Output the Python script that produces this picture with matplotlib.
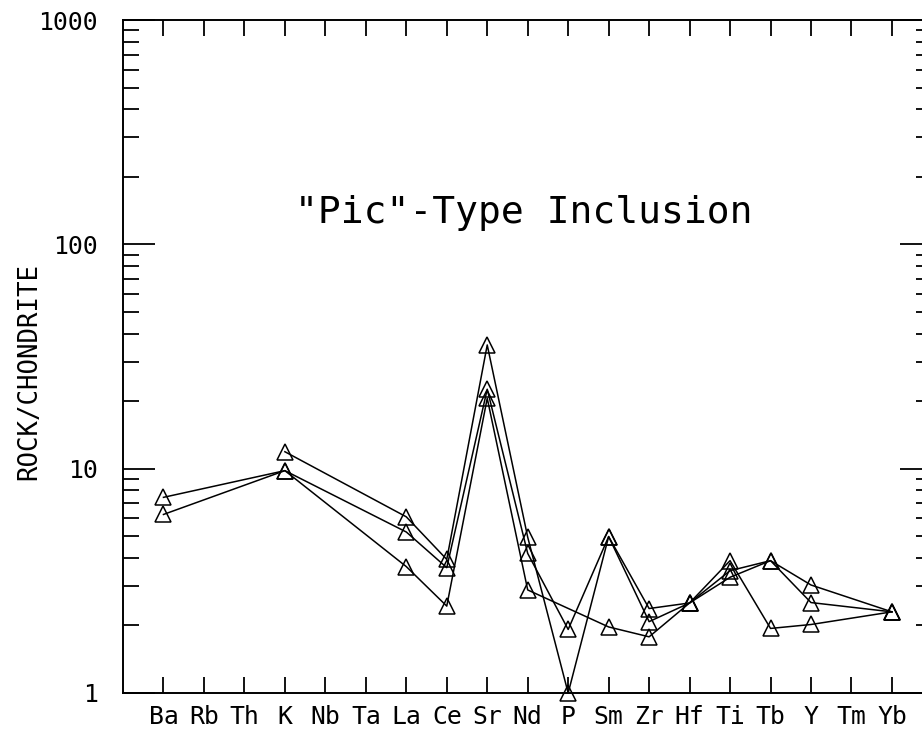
import numpy as np
import matplotlib.pyplot as plt
from matplotlib.ticker import LogLocator, NullFormatter, NullLocator

plt.rcParams['font.family'] = ['DejaVu Sans Mono', 'DejaVu Sans']

elements = ['Ba', 'Rb', 'Th', 'K', 'Nb', 'Ta', 'La', 'Ce', 'Sr', 'Nd',
            'P', 'Sm', 'Zr', 'Hf', 'Ti', 'Tb', 'Y', 'Tm', 'Yb']

# rock / chondrite, None = not analysed
sample1 = [None, None, None, 11.9, None, None, 6.1, 3.94, 35.6, 4.95,
           1.0, 4.98, 2.38, 2.52, 3.89, 1.94, 2.02, None, 2.30]
sample2 = [7.45, None, None, 9.8, None, None, 5.22, 3.62, 22.6, 4.19,
           1.92, 4.98, 2.08, 2.52, 3.51, 3.89, 3.03, None, 2.30]
sample3 = [6.25, None, None, 9.8, None, None, 3.66, 2.44, 20.6, 2.88,
           None, 1.97, 1.78, 2.52, 3.28, 3.89, 2.53, None, 2.30]

fig = plt.figure(figsize=(9.22, 7.34), dpi=100)
ax = fig.add_axes([123 / 922, 41 / 734, 809.4 / 922, 673 / 734])

pos = np.arange(1, len(elements) + 1)
for s in (sample1, sample2, sample3):
    xs = [p for p, v in zip(pos, s) if v is not None]
    ys = [v for v in s if v is not None]
    ax.plot(xs, ys, color='black', lw=1.1, marker='^', markersize=11,
            markerfacecolor='none', markeredgecolor='black', mew=1.1,
            clip_on=False)

ax.set_yscale('log')
ax.set_ylim(1, 1000)
ax.set_xlim(0, len(elements) + 1)

ax.set_xticks(pos)
ax.set_xticklabels(elements)
ax.xaxis.set_minor_locator(NullLocator())
ax.set_yticks([1, 10, 100, 1000])
ax.set_yticklabels(['1', '10', '100', '1000'])
ax.yaxis.set_minor_locator(LogLocator(base=10, subs=np.arange(2, 10)))
ax.yaxis.set_minor_formatter(NullFormatter())

ax.tick_params(axis='x', which='major', direction='in', top=True, bottom=True,
               length=11.5, width=1.3, labelsize=17.8, pad=9)
ax.tick_params(axis='y', which='major', direction='in', left=True, right=True,
               length=23, width=1.3, labelsize=17.8, pad=18)
ax.tick_params(axis='y', which='minor', direction='in', left=True, right=True,
               length=11.5, width=1.3)
for sp in ax.spines.values():
    sp.set_linewidth(1.4)

fig.text(29 / 922, 1 - 371 / 734, 'ROCK/CHONDRITE', rotation=90,
         ha='center', va='center', fontsize=18.5)
fig.text(523.5 / 922, 1 - 213 / 734, '"Pic"-Type Inclusion',
         ha='center', va='center', fontsize=27.4)

plt.savefig('out.png', dpi=100)
